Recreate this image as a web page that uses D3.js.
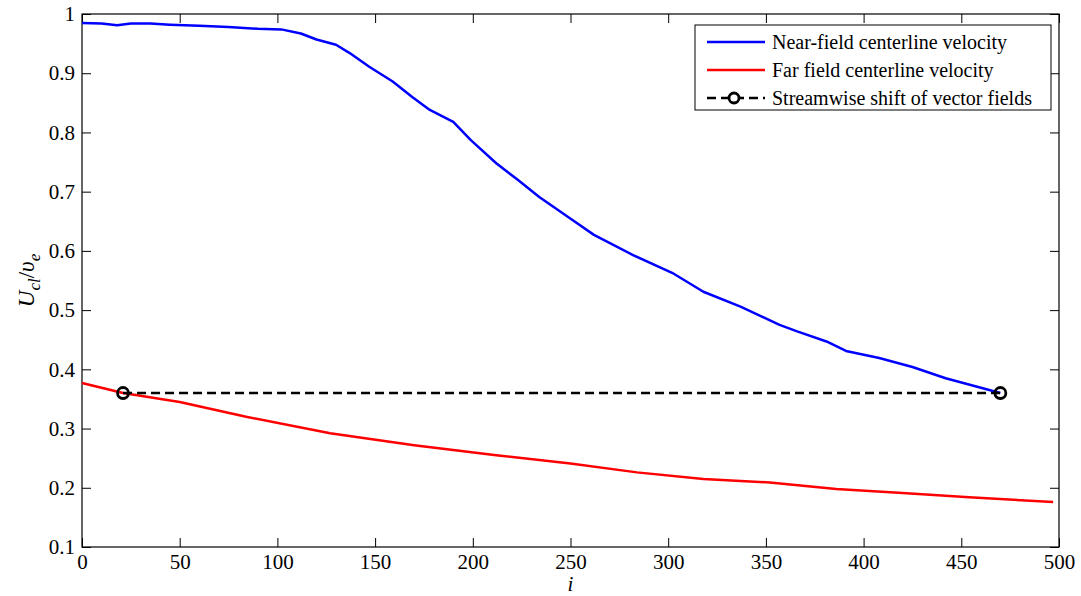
<!DOCTYPE html>
<html>
<head>
<meta charset="utf-8">
<script src="https://cdn.jsdelivr.net/npm/d3@7"></script>
<style>
  body { margin: 0; background: #fff; }
  svg { font-family: "Liberation Serif", "Times New Roman", serif; }
</style>
</head>
<body>
<svg width="1081" height="596"></svg>
<script>
// near-field centerline velocity (blue)
var nearI = [0, 10, 18, 25, 35, 45, 60, 75, 90, 102, 112, 120, 130, 137, 147, 159, 169, 178, 190, 199,
             212, 223, 234, 251, 262, 282, 302, 318, 337, 357, 366, 381, 391, 408, 425, 442, 470];
var nearV = [0.985, 0.984, 0.981, 0.984, 0.984, 0.982, 0.980, 0.978, 0.975, 0.974, 0.967, 0.957, 0.948, 0.934, 0.911, 0.886, 0.860, 0.838, 0.818, 0.787,
             0.748, 0.720, 0.691, 0.652, 0.627, 0.593, 0.563, 0.531, 0.506, 0.475, 0.464, 0.447, 0.431, 0.419, 0.404, 0.385, 0.360];

// far field centerline velocity (red)
var farI = [0, 21, 50, 84, 127, 170, 212, 250, 284, 318, 352, 386, 420, 454, 497];
var farV = [0.377, 0.360, 0.345, 0.320, 0.292, 0.272, 0.255, 0.241, 0.226, 0.215, 0.209, 0.198, 0.191, 0.184, 0.176];

// streamwise shift
var shiftI = [21, 470];
var shiftV = [0.36, 0.36];

var xTicks = [0, 50, 100, 150, 200, 250, 300, 350, 400, 450, 500];
var yTicks = [0.1, 0.2, 0.3, 0.4, 0.5, 0.6, 0.7, 0.8, 0.9, 1];

var legendLabels = ["Near-field centerline velocity", "Far field centerline velocity", "Streamwise shift of vector fields"];

var svg = d3.select("svg"),
    margin = {top: 14, right: 22, bottom: 49, left: 82},
    width = +svg.attr("width"),
    height = +svg.attr("height");

var x = d3.scaleLinear().domain([0, 500]).range([margin.left, width - margin.right]);
var y = d3.scaleLinear().domain([0.1, 1]).range([height - margin.bottom, margin.top]);

function zip(a, b) { return a.map(function(d, k) { return [d, b[k]]; }); }

var line = d3.line()
    .x(function(d) { return x(d[0]); })
    .y(function(d) { return y(d[1]); });

// axes (ticks inward, mirrored)
var tk = 9;
svg.append("g")
    .attr("transform", "translate(0," + y(0.1) + ")")
    .call(d3.axisBottom(x).tickValues(xTicks).tickSizeInner(-tk).tickSizeOuter(0).tickPadding(7))
    .call(function(g) { g.select(".domain").remove(); });
svg.append("g")
    .attr("transform", "translate(0," + y(1) + ")")
    .call(d3.axisTop(x).tickValues(xTicks).tickSizeInner(-tk).tickSizeOuter(0).tickFormat(""))
    .call(function(g) { g.select(".domain").remove(); });
svg.append("g")
    .attr("transform", "translate(" + x(0) + ",0)")
    .call(d3.axisLeft(y).tickValues(yTicks).tickSizeInner(-tk).tickSizeOuter(0).tickPadding(7).tickFormat(d3.format("")))
    .call(function(g) { g.select(".domain").remove(); });
svg.append("g")
    .attr("transform", "translate(" + x(500) + ",0)")
    .call(d3.axisRight(y).tickValues(yTicks).tickSizeInner(-tk).tickSizeOuter(0).tickFormat(""))
    .call(function(g) { g.select(".domain").remove(); });

svg.selectAll(".tick text")
    .attr("font-family", "Liberation Serif, serif")
    .attr("font-size", 21)
    .attr("fill", "#000");
svg.selectAll(".tick line").attr("stroke", "#000");

svg.append("rect")
    .attr("x", x(0)).attr("y", y(1))
    .attr("width", x(500) - x(0)).attr("height", y(0.1) - y(1))
    .attr("fill", "none").attr("stroke", "#000").attr("stroke-width", 1.2);

// series
svg.append("path")
    .datum(zip(nearI, nearV))
    .attr("fill", "none").attr("stroke", "#0000ff").attr("stroke-width", 2.5)
    .attr("stroke-linejoin", "round")
    .attr("d", line);

svg.append("path")
    .datum(zip(farI, farV))
    .attr("fill", "none").attr("stroke", "#ff0000").attr("stroke-width", 2.5)
    .attr("stroke-linejoin", "round")
    .attr("d", line);

svg.append("path")
    .datum(zip(shiftI, shiftV))
    .attr("fill", "none").attr("stroke", "#000").attr("stroke-width", 2.5)
    .attr("stroke-dasharray", "9,5")
    .attr("d", line);

svg.selectAll("circle.m")
    .data(zip(shiftI, shiftV))
    .enter().append("circle")
    .attr("class", "m")
    .attr("cx", function(d) { return x(d[0]); })
    .attr("cy", function(d) { return y(d[1]); })
    .attr("r", 5.5)
    .attr("fill", "none").attr("stroke", "#000").attr("stroke-width", 2.8);

// axis labels
svg.append("text")
    .attr("x", x(250)).attr("y", 591)
    .attr("text-anchor", "middle")
    .attr("font-size", 21).attr("font-style", "italic")
    .text("i");

var yl = svg.append("text")
    .attr("transform", "translate(34," + ((y(1) + y(0.1)) / 2) + ") rotate(-90)")
    .attr("text-anchor", "middle")
    .attr("font-size", 23);
yl.append("tspan").attr("font-style", "italic").text("U");
yl.append("tspan").attr("font-style", "italic").attr("font-size", 17).attr("dy", 6).text("cl");
yl.append("tspan").attr("dy", -6).text("/");
yl.append("tspan").attr("font-style", "italic").text("\u03c5");
yl.append("tspan").attr("font-style", "italic").attr("font-size", 17).attr("dy", 6).text("e");

// legend
var lg = svg.append("g");
lg.append("rect")
    .attr("x", 695).attr("y", 25).attr("width", 356).attr("height", 85)
    .attr("fill", "#fff").attr("stroke", "#000").attr("stroke-width", 1);

var legColors = ["#0000ff", "#ff0000", "#000"];
legendLabels.forEach(function(t, k) {
  var ly = 42 + k * 28;
  var l = lg.append("line")
      .attr("x1", 707).attr("x2", 765).attr("y1", ly).attr("y2", ly)
      .attr("stroke", legColors[k]).attr("stroke-width", 2.5);
  if (k === 2) {
    l.attr("stroke-dasharray", "9,5");
    lg.append("circle").attr("cx", 734).attr("cy", ly).attr("r", 5)
        .attr("fill", "#fff").attr("stroke", "#000").attr("stroke-width", 2.8);
  }
  lg.append("text")
      .attr("x", 772).attr("y", ly + 7)
      .attr("font-size", 20)
      .text(t);
});
</script>
</body>
</html>
